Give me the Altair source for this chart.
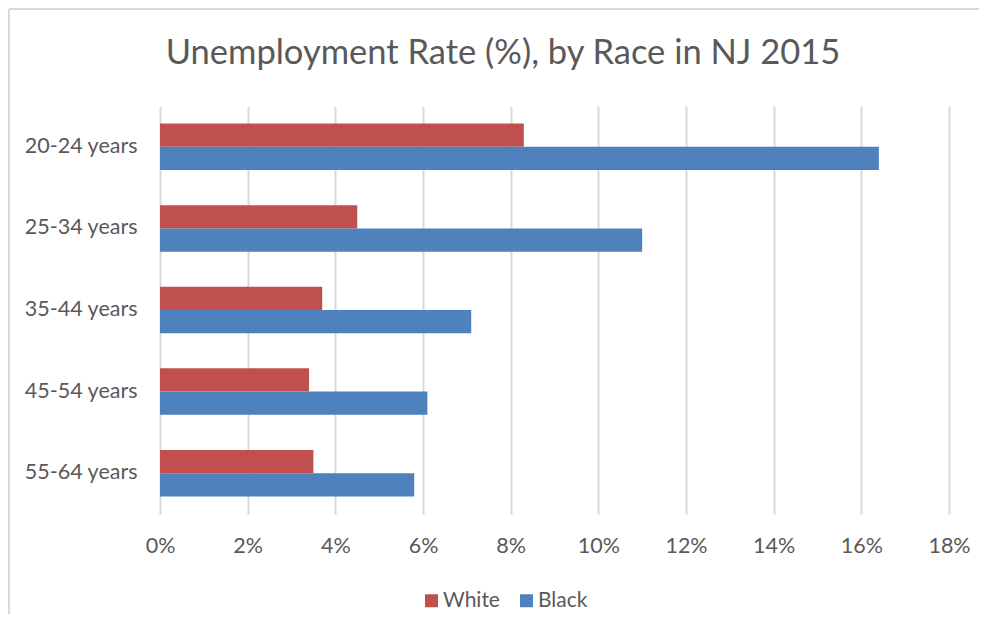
import altair as alt
import pandas as pd

categories = ["20-24 years", "25-34 years", "35-44 years", "45-54 years", "55-64 years"]
series = ["White", "Black"]
white_values = [8.3, 4.5, 3.7, 3.4, 3.5]
black_values = [16.4, 11.0, 7.1, 6.1, 5.8]
x_ticks = [0, 2, 4, 6, 8, 10, 12, 14, 16, 18]
title_text = "Unemployment Rate (%), by Race in NJ 2015"

rows = []
for c, w, b in zip(categories, white_values, black_values):
    rows.append({"age": c, "race": "White", "rate": w})
    rows.append({"age": c, "race": "Black", "rate": b})
df = pd.DataFrame(rows)

TEXT = "#595959"
FONT = "Lato"

bars = alt.Chart(df).mark_bar().encode(
    y=alt.Y("age:N", sort=categories, title=None,
            scale=alt.Scale(paddingInner=0.43, paddingOuter=0.215),
            axis=alt.Axis(domain=False, ticks=False, labelFontSize=21.5, labelColor=TEXT,
                          labelFont=FONT, labelPadding=23)),
    yOffset=alt.YOffset("race:N", sort=series),
    x=alt.X("rate:Q", title=None,
            scale=alt.Scale(domain=[0, 18], nice=False),
            axis=alt.Axis(values=x_ticks, labelExpr="datum.value + '%'", domain=False, ticks=False,
                          grid=True, gridColor="#D9D9D9", gridWidth=2, labelFlush=False,
                          labelFontSize=21.5, labelColor=TEXT, labelFont=FONT, labelPadding=21)),
    color=alt.Color("race:N", sort=series,
                    scale=alt.Scale(domain=series, range=["#C0504D", "#4F81BD"]),
                    legend=alt.Legend(title=None, orient="none", legendX=261, legendY=484,
                                      direction="horizontal", symbolType="square", symbolSize=169,
                                      symbolStrokeWidth=0, labelFontSize=21, labelColor=TEXT,
                                      labelFont=FONT, labelOffset=1, columnPadding=16)),
)

title = alt.Chart(pd.DataFrame({"t": [title_text]})).mark_text(
    font=FONT, fontSize=34.5, color=TEXT, align="center", baseline="alphabetic"
).encode(text="t:N", x=alt.value(343), y=alt.value(-42))

border = alt.Chart(pd.DataFrame({"k": [0]})).mark_rule(color="#D9D9D9", strokeWidth=2).encode(
    x=alt.value(-151), x2=alt.value(819), y=alt.value(-97)
)
border_left = alt.Chart(pd.DataFrame({"k": [0]})).mark_rule(color="#D9D9D9", strokeWidth=2).encode(
    x=alt.value(-151), y=alt.value(-97), y2=alt.value(530)
)

chart = alt.layer(bars, title, border, border_left).properties(
    width=789,
    height=408,
    autosize=alt.AutoSizeParams(type="none"),
    padding={"left": 152, "top": 98, "right": 30, "bottom": 100},
).configure_view(stroke=None)

chart.save("out.html", embed_options={"renderer": "svg", "actions": False})
